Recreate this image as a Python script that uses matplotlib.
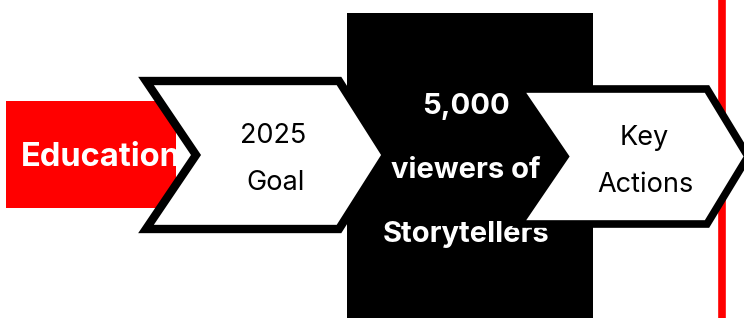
import matplotlib.pyplot as plt
from matplotlib.patches import Polygon, Rectangle

plt.rcParams['font.family'] = ['Inter', 'DejaVu Sans']

# texts of the diagram
label_left = "Education"
goal_lines = ["2025", "Goal"]
target_lines = ["5,000", "viewers of", "Storytellers"]
action_lines = ["Key", "Actions"]

RED = "#ff0000"


def chevron(x0, y0, y1, notch, tip_x, tip):
    """chevron polygon: flat left notch, pointed right"""
    ym = (y0 + y1) / 2
    return [(x0, y0), (tip_x - tip, y0), (tip_x, ym), (tip_x - tip, y1),
            (x0, y1), (x0 + notch, ym)]


fig = plt.figure(figsize=(7.44, 3.18), dpi=100)
ax = fig.add_axes([0, 0, 1, 1])
ax.set_xlim(0, 744)
ax.set_ylim(318, 0)
ax.axis('off')

# red band on the left
ax.add_patch(Rectangle((6, 101), 170, 107, facecolor=RED, edgecolor='none', zorder=1))
ax.text(101, 158, label_left, color='white', fontsize=23.5, fontweight='bold',
        ha='center', va='center', zorder=5)

# first chevron
ax.add_patch(Polygon(chevron(146, 81, 229, 50, 386, 47), closed=True,
                     facecolor='white', edgecolor='black', linewidth=6, joinstyle='miter', zorder=2))
ax.text(273, 136, goal_lines[0], fontsize=19.5, ha='center', va='center', zorder=5)
ax.text(276, 183, goal_lines[1], fontsize=19.5, ha='center', va='center', zorder=5)

# black block
ax.add_patch(Rectangle((347, 13), 246, 320, facecolor='black', edgecolor='none', zorder=1))
for y, t in zip([106, 171, 234], target_lines):
    ax.text(466, y, t, color='white', fontsize=21, fontweight='bold',
            ha='center', va='center', zorder=3)

# red vertical line
ax.plot([721.5, 721.5], [0, 318], color=RED, linewidth=5.5, zorder=1, solid_capstyle='butt')

# second chevron
ax.add_patch(Polygon(chevron(519, 89, 224, 46, 748, 41), closed=True,
                     facecolor='white', edgecolor='black', linewidth=5.5, joinstyle='miter', zorder=4))
ax.text(644, 138, action_lines[0], fontsize=19.5, ha='center', va='center', zorder=5)
ax.text(645, 185, action_lines[1], fontsize=19.5, ha='center', va='center', zorder=5)

fig.savefig('out.png', dpi=100)
